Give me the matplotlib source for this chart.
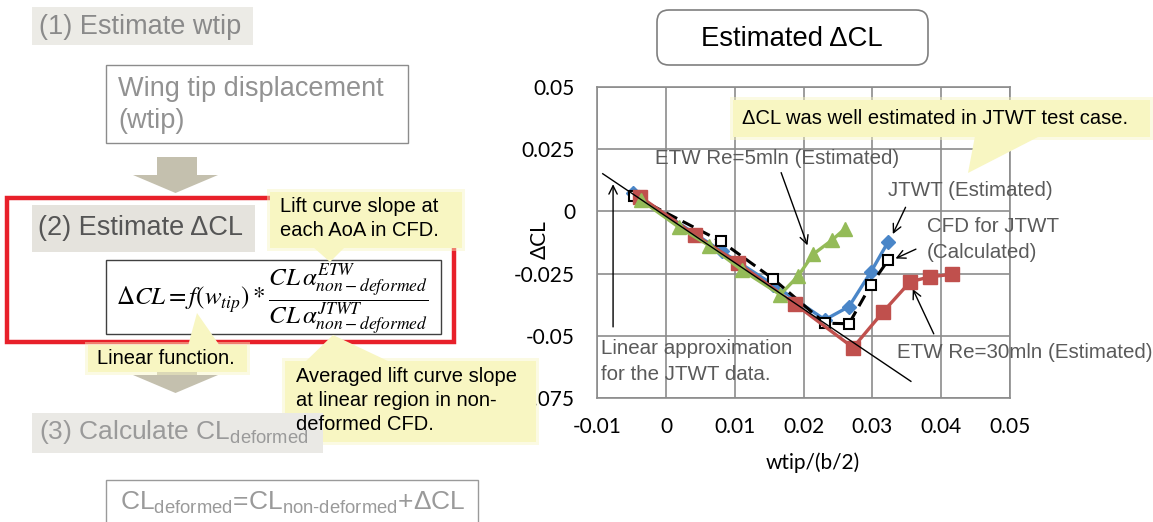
import matplotlib.pyplot as plt
from matplotlib.patches import Rectangle, FancyBboxPatch, Polygon

plt.rcParams['mathtext.fontset'] = 'stix'
plt.rcParams['mathtext.rm'] = 'Liberation Sans'
plt.rcParams['mathtext.it'] = 'Liberation Sans:italic'

# data
jtwt_x = [-0.0048, 0.0081, 0.0156, 0.0231, 0.0266, 0.0298, 0.0323]
jtwt_y = [0.0074, -0.0161, -0.0295, -0.0436, -0.0383, -0.0243, -0.0122]
cfd_x = [-0.0047, 0.0080, 0.0156, 0.0231, 0.0266, 0.0298, 0.0323]
cfd_y = [0.0062, -0.0120, -0.0272, -0.0450, -0.0452, -0.0295, -0.0196]
etw30_x = [-0.0038, 0.0042, 0.0104, 0.0187, 0.0272, 0.0316, 0.0355, 0.0384, 0.0416]
etw30_y = [0.0060, -0.0094, -0.0206, -0.0372, -0.0548, -0.0403, -0.0283, -0.0263, -0.0253]
etw5_x = [-0.0037, 0.0019, 0.0063, 0.0110, 0.0166, 0.0192, 0.0214, 0.0241, 0.0260]
etw5_y = [0.0047, -0.0064, -0.0138, -0.0235, -0.0335, -0.0260, -0.0172, -0.0116, -0.0070]
lin_x = [-0.0092, 0.0356]
lin_y = [0.0152, -0.0684]

xticks = [-0.01, 0, 0.01, 0.02, 0.03, 0.04, 0.05]
xtick_labels = ['-0.01', '0', '0.01', '0.02', '0.03', '0.04', '0.05']
yticks = [0.05, 0.025, 0, -0.025, -0.05, -0.075]
ytick_labels = ['0.05', '0.025', '0', '-0.025', '-0.05', '-0.075']

fig = plt.figure(figsize=(11.53, 5.22), dpi=100)

# ---- chart ----
ax = fig.add_axes([0.518, 0.2381, 0.3579, 0.5946])
ax.set_xlim(-0.01, 0.05)
ax.set_ylim(-0.075, 0.05)
ax.set_xticks(xticks)
ax.set_xticklabels(xtick_labels)
ax.set_yticks(yticks)
ax.set_yticklabels(ytick_labels)
ax.tick_params(axis='x', length=0, pad=14, labelsize=15)
ax.tick_params(axis='y', length=0, pad=16, labelsize=15)
for lab in ax.get_xticklabels() + ax.get_yticklabels():
    lab.set_family('Lato')
ax.grid(True, color='#8c8c8c', lw=1.2)
for s in ax.spines.values():
    s.set_color('#8c8c8c')
    s.set_linewidth(1.2)
ax.set_axisbelow(True)
ax.set_xlabel('wtip/(b/2)', family='Lato', fontsize=15, va='center')
ax.xaxis.set_label_coords(0.523, -0.210)
ax.set_ylabel('ΔCL', family='Lato', fontsize=15, va='center')
ax.yaxis.set_label_coords(-0.139, 0.508)

ax.plot(jtwt_x, jtwt_y, color='#4a86c8', lw=2.4, marker='D', ms=7, zorder=3)
ax.plot(cfd_x, cfd_y, color='black', lw=2.2, ls=(0, (4, 2)), marker='s', ms=7,
        mfc='white', mec='black', mew=1.5, zorder=4)
ax.plot(etw30_x, etw30_y, color='#c0504d', lw=2.4, marker='s', ms=10, zorder=5)
ax.plot(etw5_x, etw5_y, color='#94bb58', lw=2.4, marker='^', ms=10, zorder=6)
ax.plot(lin_x, lin_y, color='black', lw=1, zorder=7)

arr = dict(arrowstyle='->', lw=1, color='black', mutation_scale=15)
ax.annotate('', xy=(-0.0077, 0.0121), xytext=(-0.0077, -0.0476), arrowprops=arr)
ax.annotate('', xy=(0.0207, -0.0147), xytext=(0.0166, 0.0167), arrowprops=arr)
ax.annotate('', xy=(0.0328, -0.0101), xytext=(0.0350, 0.0027), arrowprops=arr)
ax.annotate('', xy=(0.0330, -0.0194), xytext=(0.0367, -0.0147), arrowprops=arr)
ax.annotate('', xy=(0.0357, -0.0302), xytext=(0.0391, -0.0503), arrowprops=arr)

# ---- overlay in pixel coordinates ----
ov = fig.add_axes([0, 0, 1, 1], zorder=5)
ov.set_xlim(0, 1153)
ov.set_ylim(522, 0)
ov.axis('off')

gray_txt = '#5a5a5a'
ann_fs = 14.8
ov.text(655, 158, 'ETW Re=5mln (Estimated)', fontsize=ann_fs, color=gray_txt,
        family='Liberation Sans', va='center')
ov.text(888, 190, 'JTWT (Estimated)', fontsize=ann_fs, color=gray_txt,
        family='Liberation Sans', va='center')
ov.text(927, 227, 'CFD for JTWT', fontsize=ann_fs, color=gray_txt,
        family='Liberation Sans', va='center')
ov.text(927, 252, '(Calculated)', fontsize=ann_fs, color=gray_txt,
        family='Liberation Sans', va='center')
ov.text(897, 352, 'ETW Re=30mln (Estimated)', fontsize=ann_fs, color=gray_txt,
        family='Liberation Sans', va='center')
ov.text(601, 349, 'Linear approximation', fontsize=ann_fs, color=gray_txt,
        family='Liberation Sans', va='center')
ov.text(601, 374, 'for the JTWT data.', fontsize=ann_fs, color=gray_txt,
        family='Liberation Sans', va='center')

# title box
ov.add_patch(FancyBboxPatch((657, 10), 271, 55, boxstyle='round,pad=0,rounding_size=12',
                            fc='white', ec='#7f7f7f', lw=1.2))
ov.text(792, 39, 'Estimated ΔCL', fontsize=19.8, family='Liberation Sans',
        ha='center', va='center', color='black')

yel = '#f8f6c2'
call_fs = 14.5


def callout(x0, y0, x1, y1, tail):
    ov.add_patch(Rectangle((x0 - 3, y0 - 3), x1 - x0 + 6, y1 - y0 + 6, fc=yel, ec='none', alpha=0.45))
    ov.add_patch(Rectangle((x0, y0), x1 - x0, y1 - y0, fc=yel, ec='none'))
    ov.add_patch(Polygon(tail, closed=True, fc=yel, ec='none'))


callout(733, 100, 1150, 137, [(975, 136), (1040, 136), (968, 173)])
ov.text(742, 119, 'ΔCL was well estimated in JTWT test case.', fontsize=call_fs,
        family='Liberation Sans', va='center', color='black')

# left flow diagram
head_fs = 19.5
ov.add_patch(Rectangle((32, 7), 221, 38, fc='#ecebe6', ec='none'))
ov.text(39, 27, '(1) Estimate wtip', fontsize=head_fs, color='#8a8a8a',
        family='Liberation Sans', va='center')

ov.add_patch(Rectangle((106, 65), 302, 78, fc='white', ec='#8c8c8c', lw=1))
ov.text(118, 89, 'Wing tip displacement', fontsize=head_fs, color='#929292',
        family='Liberation Sans', va='center')
ov.text(118, 121, '(wtip)', fontsize=head_fs, color='#929292',
        family='Liberation Sans', va='center')

arrow_col = '#c4c0ae'
ov.add_patch(Polygon([(157, 157), (197, 157), (197, 175), (218, 175), (175.5, 193),
                      (133, 175), (157, 175)], closed=True, fc=arrow_col, ec='none'))

ov.add_patch(Rectangle((7, 198), 447, 144, fc='none', ec='#e8202a', lw=3.2))

ov.add_patch(Rectangle((32, 205), 223, 47, fc='#e5e3dd', ec='none'))
ov.text(38, 228, '(2) Estimate ΔCL', fontsize=head_fs, color='#555555',
        family='Liberation Sans', va='center')

ov.add_patch(Rectangle((106, 260), 335, 74, fc='white', ec='#404040', lw=1))
ov.text(116, 300,
        r'$\Delta CL = f\left(w_{tip}\right)*\dfrac{CL\,\alpha_{non-deformed}^{ETW}}'
        r'{CL\,\alpha_{non-deformed}^{JTWT}}$',
        fontsize=18, va='center', ha='left', color='black', math_fontfamily='stix')

callout(270, 192, 462, 248, [(313, 247), (345, 247), (330, 262)])
ov.text(280, 207, 'Lift curve slope at', fontsize=call_fs, family='Liberation Sans',
        va='center', color='black')
ov.text(280, 231, 'each AoA in CFD.', fontsize=call_fs, family='Liberation Sans',
        va='center', color='black')

ov.add_patch(Polygon([(157, 352), (197, 352), (197, 375), (218, 375), (175.5, 393),
                      (133, 375), (157, 375)], closed=True, fc=arrow_col, ec='none'))

callout(88, 345, 247, 372, [(188, 346), (220, 346), (197, 313)])
ov.text(97, 359, 'Linear function.', fontsize=call_fs, family='Liberation Sans',
        va='center', color='black')

callout(285, 361, 536, 442, [(305, 362), (390, 362), (333, 335)])
ov.text(296, 376, 'Averaged lift curve slope', fontsize=call_fs, family='Liberation Sans',
        va='center', color='black')
ov.text(296, 401, 'at linear region in non-', fontsize=call_fs, family='Liberation Sans',
        va='center', color='black')
ov.text(296, 425, 'deformed CFD.', fontsize=call_fs, family='Liberation Sans',
        va='center', color='black')

ov.add_patch(Rectangle((32, 413), 291, 40, fc='#eae9e5', ec='none'))
ov.text(39, 432, r'(3) Calculate CL$_{\mathrm{deformed}}$', fontsize=19, color='#9a9a9a',
        family='Liberation Sans', va='center', math_fontfamily='custom')

ov.add_patch(Rectangle((106, 480), 372, 50, fc='white', ec='#9a9a9a', lw=1))
ov.text(120, 503, r'CL$_{\mathrm{deformed}}$=CL$_{\mathrm{non‐deformed}}$+ΔCL', fontsize=19,
        color='#9a9a9a', family='Liberation Sans', va='center', math_fontfamily='custom')

fig.savefig('out.png', dpi=100)
